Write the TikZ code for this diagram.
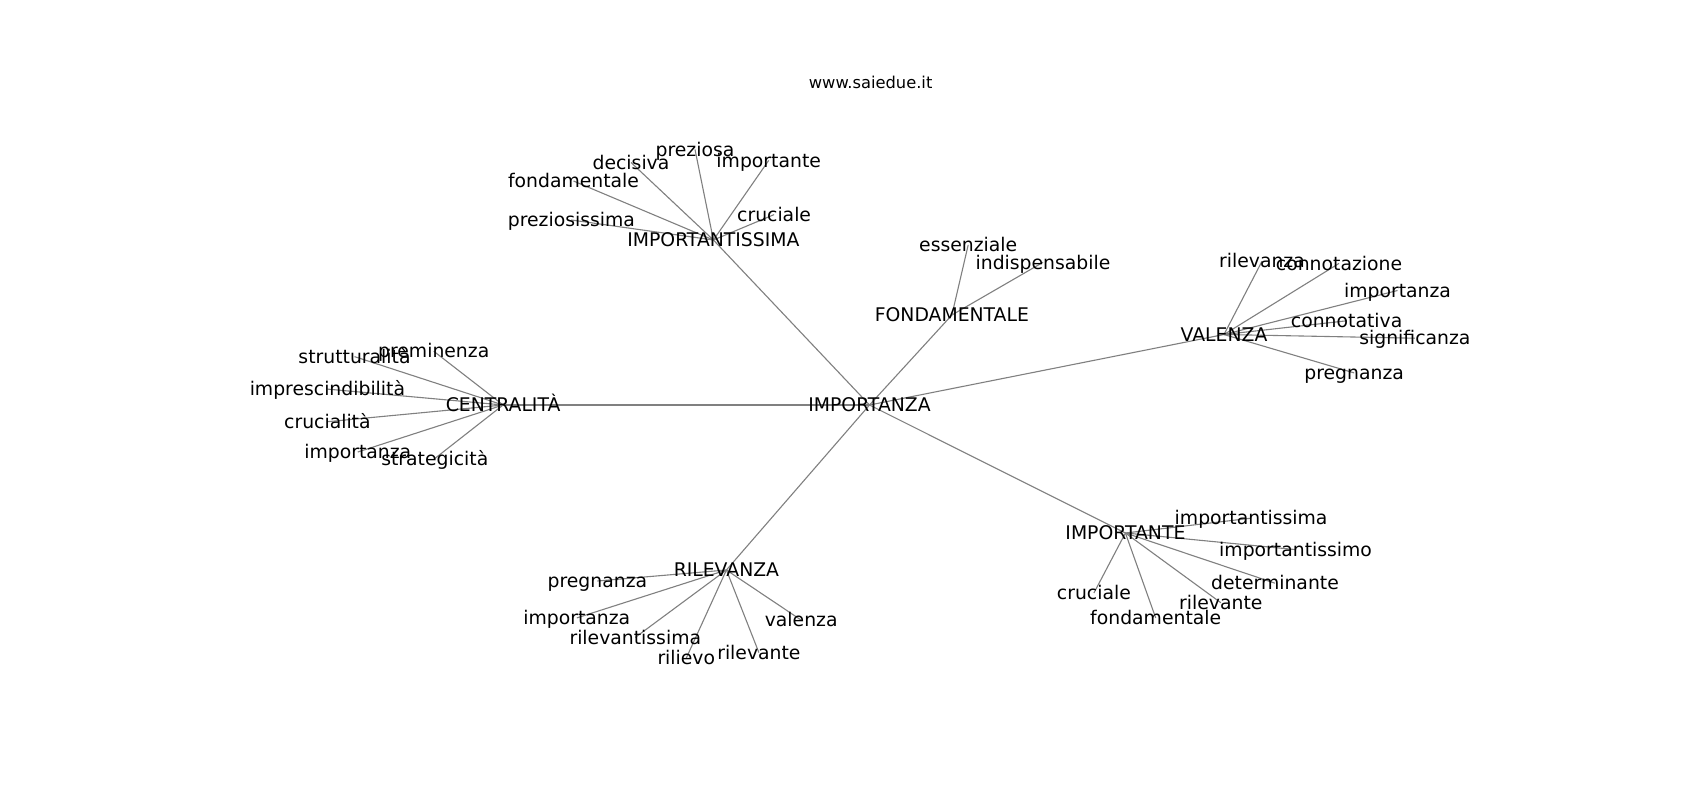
\documentclass[tikz,border=0pt]{standalone}
\usepackage{fontspec}
\setmainfont{DejaVu Sans}
\usetikzlibrary{backgrounds}
\begin{document}
\begin{tikzpicture}[x=1pt,y=-1pt,
  lbl/.style={inner sep=0pt,outer sep=0pt,font=\fontsize{18.8}{18.8}\selectfont,text=black,text height=15pt,text depth=1.6pt,anchor=center},
  ttl/.style={inner sep=0pt,outer sep=0pt,font=\fontsize{16.3}{16.3}\selectfont,text=black,text height=12.4pt,text depth=3.4pt,anchor=center},
  edge/.style={draw={rgb,255:red,128;green,128;blue,128},line width=1.1pt}]
\useasboundingbox (0,0) rectangle (1700,800);
\node[ttl] (title) at (870.6,83.6) {www.saiedue.it};
% hubs
\node[lbl] (imp) at (869.5,405) {IMPORTANZA};
\node[lbl] (ims) at (713.4,240) {IMPORTANTISSIMA};
\node[lbl] (fon) at (951.9,315) {FONDAMENTALE};
\node[lbl] (val) at (1224.0,334.5) {VALENZA};
\node[lbl] (cen) at (503.1,405) {CENTRALITÀ};
\node[lbl] (ril) at (726.4,570) {RILEVANZA};
\node[lbl] (ite) at (1125.4,533) {IMPORTANTE};
% IMPORTANTISSIMA leaves
\node[lbl] (a1) at (695.0,149.5) {preziosa};
\node[lbl] (a2) at (631.0,162.5) {decisiva};
\node[lbl] (a3) at (768.7,160.4) {importante};
\node[lbl] (a4) at (573.5,181) {fondamentale};
\node[lbl] (a5) at (774.1,214.6) {cruciale};
\node[lbl] (a6) at (571.4,220) {preziosissima};
% FONDAMENTALE leaves
\node[lbl] (b1) at (968.2,244.9) {essenziale};
\node[lbl] (b2) at (1043.0,262.3) {indispensabile};
% VALENZA leaves
\node[lbl] (c1) at (1262.0,261.2) {rilevanza};
\node[lbl] (c2) at (1339.0,263.4) {connotazione};
\node[lbl] (c3) at (1397.5,290.5) {importanza};
\node[lbl] (c4) at (1346.6,320.8) {connotativa};
\node[lbl] (c5) at (1414.9,338.2) {significanza};
\node[lbl] (c6) at (1354.1,372.9) {pregnanza};
% CENTRALITA leaves
\node[lbl] (d1) at (433.7,351.2) {preminenza};
\node[lbl] (d2) at (354.5,356.6) {strutturalità};
\node[lbl] (d3) at (327.4,389.1) {imprescindibilità};
\node[lbl] (d4) at (327.4,421.7) {crucialità};
\node[lbl] (d5) at (357.8,452) {importanza};
\node[lbl] (d6) at (434.8,458.5) {strategicità};
% RILEVANZA leaves
\node[lbl] (e1) at (597.4,581) {pregnanza};
\node[lbl] (e2) at (576.8,617.9) {importanza};
\node[lbl] (e3) at (635.3,637.4) {rilevantissima};
\node[lbl] (e4) at (686.3,658) {rilievo};
\node[lbl] (e5) at (758.9,652.6) {rilevante};
\node[lbl] (e6) at (801.2,620.1) {valenza};
% IMPORTANTE leaves
\node[lbl] (f1) at (1251.1,518.2) {importantissima};
\node[lbl] (f2) at (1295.6,549.6) {importantissimo};
\node[lbl] (f3) at (1275.0,583.2) {determinante};
\node[lbl] (f4) at (1220.8,602.7) {rilevante};
\node[lbl] (f5) at (1093.9,593) {cruciale};
\node[lbl] (f6) at (1155.7,617.9) {fondamentale};
\begin{pgfonlayer}{background}
\fill[white] (0,0) rectangle (1700,800);
\foreach \h in {ims,fon,val,cen,ril,ite} \draw[edge] (imp.center) -- (\h.center);
\foreach \l in {a1,a2,a3,a4,a5,a6} \draw[edge] (ims.center) -- (\l.center);
\foreach \l in {b1,b2} \draw[edge] (fon.center) -- (\l.center);
\foreach \l in {c1,c2,c3,c4,c5,c6} \draw[edge] (val.center) -- (\l.center);
\foreach \l in {d1,d2,d3,d4,d5,d6} \draw[edge] (cen.center) -- (\l.center);
\foreach \l in {e1,e2,e3,e4,e5,e6} \draw[edge] (ril.center) -- (\l.center);
\foreach \l in {f1,f2,f3,f4,f5,f6} \draw[edge] (ite.center) -- (\l.center);
\end{pgfonlayer}
\end{tikzpicture}
\end{document}
